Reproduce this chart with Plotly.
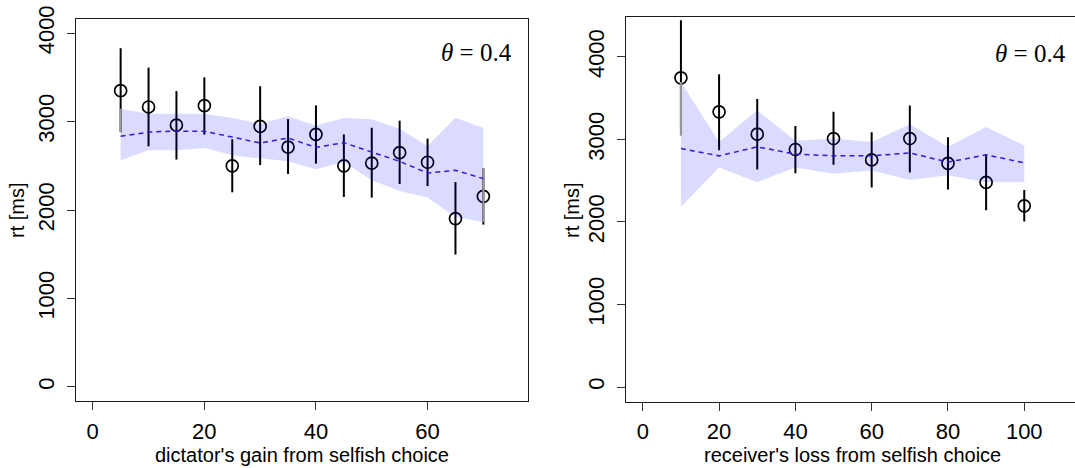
import plotly.graph_objects as go

# ---- dictator's gain panel -------------------------------------------------
gain_x = [5, 10, 15, 20, 25, 30, 35, 40, 45, 50, 55, 60, 65, 70]
gain_obs = [3350, 3165, 2960, 3180, 2500, 2945, 2712, 2855, 2500, 2530, 2648, 2540, 1903, 2155]
gain_obs_hi = [3830, 3610, 3345, 3500, 2800, 3400, 3028, 3183, 2855, 2930, 3010, 2807, 2316, 2475]
gain_obs_lo = [2880, 2720, 2570, 2852, 2200, 2508, 2407, 2524, 2147, 2140, 2294, 2271, 1496, 1835]
gain_pred = [2833, 2881, 2893, 2889, 2825, 2757, 2814, 2708, 2761, 2655, 2550, 2418, 2449, 2355]
gain_pred_hi = [3146, 3089, 3089, 3089, 3040, 2976, 3059, 2957, 3040, 3025, 2920, 2723, 3044, 2928]
gain_pred_lo = [2562, 2675, 2675, 2701, 2618, 2584, 2550, 2460, 2542, 2336, 2215, 2140, 1921, 1864]

# ---- receiver's loss panel -------------------------------------------------
loss_x = [10, 20, 30, 40, 50, 60, 70, 80, 90, 100]
loss_obs = [3746, 3334, 3064, 2878, 3011, 2752, 3011, 2709, 2479, 2195]
loss_obs_hi = [4444, 3790, 3491, 3164, 3334, 3088, 3411, 3027, 2822, 2386]
loss_obs_lo = [3052, 2870, 2635, 2591, 2692, 2418, 2600, 2394, 2143, 2006]
loss_pred = [2890, 2801, 2910, 2822, 2801, 2801, 2837, 2725, 2813, 2717]
loss_pred_hi = [3697, 2970, 3354, 2983, 3011, 2970, 3185, 2910, 3152, 2926]
loss_pred_lo = [2183, 2660, 2482, 2660, 2583, 2624, 2507, 2567, 2482, 2482]

gain_ticks = [0, 20, 40, 60]
loss_ticks = [0, 20, 40, 60, 80, 100]
rt_ticks = [0, 1000, 2000, 3000, 4000]
theta_label = "<i>θ</i> = 0.4"

W, H = 1075, 468
BAND = "rgba(0,0,255,0.14)"
LINE_BLUE = "#3418d8"
SANS = "Liberation Sans, Arial, Helvetica, sans-serif"
SERIF = "Liberation Serif, Times New Roman, serif"


def px_x(p):
    return p / W


def px_y(p):
    return 1 - p / H


def segments(xs, lo, hi):
    sx, sy = [], []
    for x, a, b in zip(xs, lo, hi):
        sx += [x, x, None]
        sy += [a, b, None]
    return sx, sy


def edge_segments(xs, lo, hi, blo, bhi):
    # parts of the outermost CI bars that sit on the band's vertical edges
    sx, sy = [], []
    for i in (0, len(xs) - 1):
        a, b = max(lo[i], blo[i]), min(hi[i], bhi[i])
        if b > a:
            sx += [xs[i], xs[i], None]
            sy += [a, b, None]
    return sx, sy


fig = go.Figure()


def add_panel(xs, obs, lo, hi, pred, plo, phi, xa, ya):
    bx, by = segments(xs, lo, hi)
    fig.add_trace(go.Scatter(x=bx, y=by, mode="lines", xaxis=xa, yaxis=ya,
                             line=dict(color="black", width=2), hoverinfo="skip"))
    fig.add_trace(go.Scatter(x=xs, y=obs, mode="markers", xaxis=xa, yaxis=ya,
                             marker=dict(symbol="circle-open", size=12, color="black",
                                         line=dict(width=1.7, color="black"))))
    fig.add_trace(go.Scatter(x=list(xs) + list(xs)[::-1], y=list(phi) + list(plo)[::-1],
                             mode="lines", fill="toself", fillcolor=BAND,
                             line=dict(width=0, color="rgba(0,0,0,0)"),
                             xaxis=xa, yaxis=ya, hoverinfo="skip"))
    ex, ey = edge_segments(xs, lo, hi, plo, phi)
    fig.add_trace(go.Scatter(x=ex, y=ey, mode="lines", xaxis=xa, yaxis=ya,
                             line=dict(color="#9a9a9a", width=2), hoverinfo="skip"))
    fig.add_trace(go.Scatter(x=xs, y=pred, mode="lines", xaxis=xa, yaxis=ya,
                             line=dict(color=LINE_BLUE, width=1.5, dash="5px,4px")))


add_panel(gain_x, gain_obs, gain_obs_lo, gain_obs_hi, gain_pred, gain_pred_lo, gain_pred_hi, "x", "y")
add_panel(loss_x, loss_obs, loss_obs_lo, loss_obs_hi, loss_pred, loss_pred_lo, loss_pred_hi, "x2", "y2")

axis_common = dict(showgrid=False, zeroline=False, showline=True, linecolor="#1a1a1a",
                   linewidth=1.3, ticks="outside", ticklen=8, tickwidth=1.2,
                   tickcolor="#333333", automargin=False,
                   tickfont=dict(family=SANS, size=22, color="black"))
x_common = dict(ticklabelstandoff=2, **axis_common)
y_common = dict(ticklabelstandoff=4, tickangle=-90, **axis_common)

fig.update_layout(
    width=W, height=H, margin=dict(l=0, r=0, t=0, b=0, pad=0),
    paper_bgcolor="white", plot_bgcolor="white", showlegend=False,
    xaxis=dict(domain=[px_x(76), px_x(528)], range=[-3, 78], tickvals=gain_ticks,
               mirror=True, anchor="y", **x_common),
    yaxis=dict(domain=[px_y(401), px_y(19)], range=[-160, 4160], tickvals=rt_ticks,
               mirror=True, anchor="x", **y_common),
    xaxis2=dict(domain=[px_x(626), 1.0], range=[-4.4, 113.3], tickvals=loss_ticks,
                mirror=True, anchor="y2", **x_common),
    yaxis2=dict(domain=[px_y(401.7), px_y(17.3)], range=[-178, 4480], tickvals=rt_ticks,
                mirror=False, anchor="x2", **y_common),
)

text_font = dict(family=SANS, size=20, color="black")
annotations = [
    dict(text="dictator's gain from selfish choice", x=px_x(302), y=px_y(455),
         xanchor="center", yanchor="middle", font=text_font),
    dict(text="receiver's loss from selfish choice", x=px_x(852), y=px_y(455),
         xanchor="center", yanchor="middle", font=text_font),
    dict(text="rt [ms]", x=px_x(17), y=px_y(210), textangle=-90,
         xanchor="center", yanchor="middle", font=text_font),
    dict(text="rt [ms]", x=px_x(572), y=px_y(210), textangle=-90,
         xanchor="center", yanchor="middle", font=text_font),
    dict(text=theta_label, x=px_x(514), y=px_y(52), xanchor="right", yanchor="middle",
         font=dict(family=SERIF, size=25, color="black")),
    dict(text=theta_label, x=px_x(1068), y=px_y(53), xanchor="right", yanchor="middle",
         font=dict(family=SERIF, size=25, color="black")),
]
for a in annotations:
    a.update(xref="paper", yref="paper", showarrow=False)
fig.update_layout(annotations=annotations)

fig.write_html("out.html")
